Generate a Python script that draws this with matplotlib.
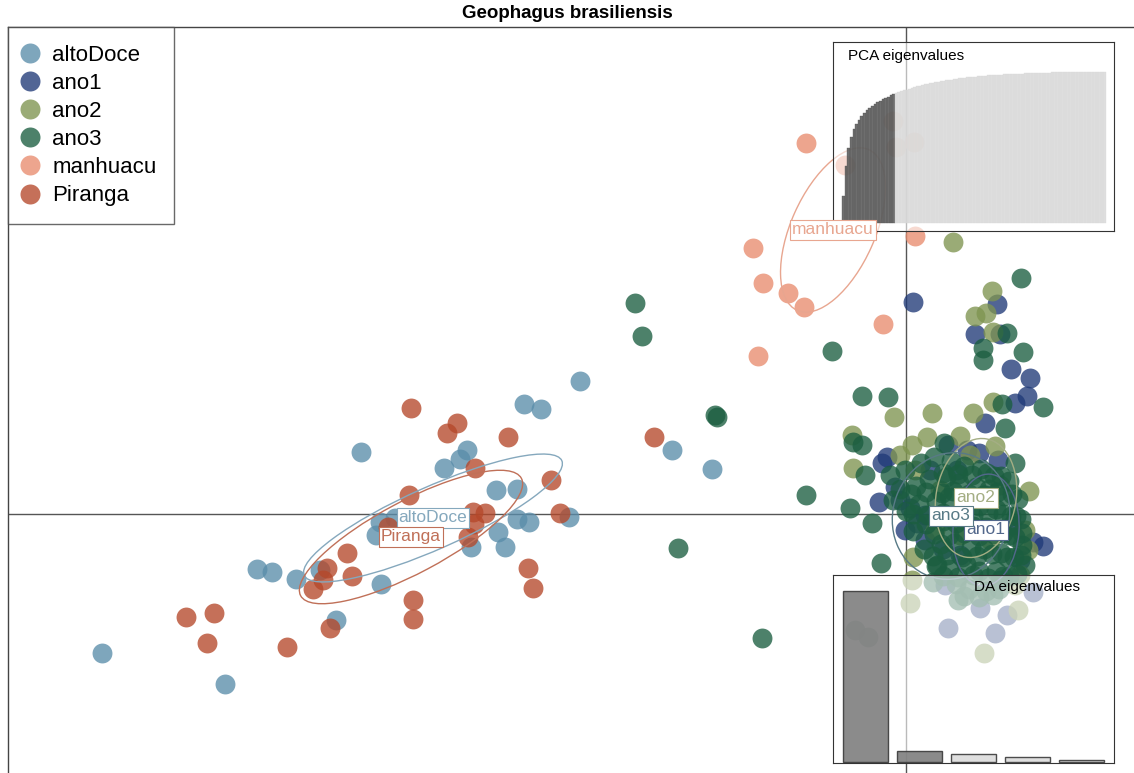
import matplotlib
matplotlib.use("Agg")
import matplotlib.pyplot as plt
from matplotlib.patches import Ellipse
from matplotlib.lines import Line2D

plt.rcParams['font.family'] = ['Liberation Sans', 'DejaVu Sans']

# DAPC scores (LD1, LD2) per population
alto_x = [-8.04, -6.81, -6.49, -6.34, -6.10, -5.86, -5.70, -5.45, -5.26, -5.11, -5.30, -5.25, -4.62, -4.46,
          -4.39, -4.10, -3.89, -4.08, -4.01, -4.35, -3.89, -3.77, -3.37, -3.82, -3.65, -3.26, -2.34, -1.94]
alto_y = [-1.39, -1.70, -0.55, -0.58, -0.65, -0.56, -1.06, 0.62, -0.08, -0.04, -0.21, -0.70, 0.46, 0.55,
          0.64, 0.24, 0.25, -0.18, -0.33, -0.33, -0.05, -0.08, -0.03, 1.10, 1.05, 1.33, 0.64, 0.45]

pir_x = [-4.95, -4.59, -4.49, -3.98, -4.31, -4.97, -3.55, -4.33, -4.21, -4.32, -4.38, -3.46, -5.18, -5.59,
         -5.79, -5.83, -5.93, -5.54, -4.93, -4.93, -3.78, -3.73, -5.76, -7.20, -6.92, -6.99, -6.19, -2.52]
pir_y = [1.06, 0.81, 0.91, 0.77, 0.46, 0.19, 0.34, 0.02, 0.01, -0.10, -0.23, 0.01, -0.13, -0.39,
         -0.54, -0.66, -0.75, -0.62, -0.86, -1.05, -0.54, -0.74, -1.14, -1.03, -0.99, -1.29, -1.33, 0.77]

man_x = [-1.00, -0.61, -0.13, -0.10, 0.08, -1.53, -1.43, -1.18, -1.02, -0.23, -1.48, 0.09]
man_y = [3.71, 3.49, 3.93, 3.67, 3.72, 2.66, 2.31, 2.21, 2.07, 1.90, 1.58, 2.78]

ano1_x = [0.07, 0.91, 0.69, 0.94, 1.05, 1.24, 1.21, 1.09, 0.79, -0.19, -0.24, 0.61, 0.73, 0.42, -0.27,
          -0.11, 0.04, 0.11, 1.37, 1.27, 0.37, 0.92, 0.42, 0.89, 0.74, 1.01, 1.27,
          0.24, 0.51, -0.06, 0.19, 0.79, 1.06, 0.54, 0.39, 0.94, 1.14, 0.19, -0.01]
ano1_y = [2.12, 2.10, 1.80, 1.80, 1.45, 1.36, 1.18, 1.11, 0.91, 0.57, 0.51, 0.64, 0.61, 0.69, 0.12,
          0.27, 0.06, -0.09, -0.32, -0.28, -0.35, 0.54, -1.14, -1.19, -0.94, -1.01, -0.78,
          0.44, 0.44, 0.14, -0.01, 0.19, -0.11, -0.41, -0.71, -0.66, -0.46, -0.26, -0.16]

ano2_x = [0.47, 0.86, 0.69, 0.80, 0.87, 0.87, 0.67, 0.26, -0.12, -0.54, -0.53, 0.21, 0.54, 0.89, 1.23,
          0.07, 0.04, 0.78, 1.12, 0.06,
          0.09, 0.64, 0.34, 0.94, 1.19, 1.22, 0.84, 0.54, 1.09, 0.29, 1.14, 0.06, -0.06]
ano2_y = [2.72, 2.23, 1.98, 2.01, 1.82, 1.12, 1.01, 1.01, 0.97, 0.79, 0.46, 0.77, 0.78, 0.68, 0.23,
          -0.43, -0.89, -1.39, -0.96, 0.69,
          0.44, 0.59, 0.24, 0.29, -0.16, -0.36, -0.26, -0.21, -0.71, -0.16, -0.61, -0.66, 0.59]

ano3_x = [-2.71, -2.64, -0.74, -1.91, -1.89, -1.00, -2.28, -1.44, -0.44, -0.18, 1.15, 1.17, 0.77, 0.77,
          1.01, 1.37, 0.96, -0.53, -0.44, -0.41, 0.99, 1.09, -0.56, -0.34, -0.25, 0.31, 0.38, -0.51,
          -0.38, 0.27, 0.52,
          -0.01, 0.15, 0.28, 0.45, 0.58, 0.75, 0.88, 1.03,
          -0.06, 0.10, 0.23, 0.40, 0.53, 0.70, 0.83, 0.98, 1.12,
          0.00, 0.13, 0.30, 0.43, 0.60, 0.73, 0.90, 1.05, 1.15,
          0.07, 0.20, 0.37, 0.50, 0.67, 0.80, 0.97, 1.09,
          0.18, 0.35, 0.48, 0.65, 0.78, 0.95, 1.08,
          0.30, 0.43, 0.60, 0.73, 0.90, 1.03,
          0.50, 0.63, 0.80, 0.93,
          -0.16, -0.13, 1.16, 1.19,
          0.37, 0.52, 0.66, 0.81, 0.95,
          0.05, 0.20, 0.36, 0.47, 0.63, 0.77, 0.91, 1.06,
          0.07, 0.22, 0.37, 0.52, 0.67, 0.82, 0.97, 1.10,
          0.28, 0.43, 0.58, 0.73, 0.88, 1.03, 1.16,
          0.27, 0.41, 0.56, 0.71, 0.86, 1.01, 1.15,
          0.37, 0.52, 0.67, 0.82, 0.97, 1.11,
          0.58, 0.73, 0.87]
ano3_y = [2.11, 1.78, 1.63, 0.99, 0.97, 0.19, -0.34, -1.24, 1.18, 1.17, 2.36, 1.62, 1.54, 1.66,
          1.81, 1.07, 1.10, 0.72, 0.69, 0.39, 0.86, 0.51, 0.06, -0.09, -0.49, -0.51, 0.71, -1.16,
          -1.23, -0.68, -0.86,
          0.44, 0.51, 0.57, 0.53, 0.48, 0.45, 0.38, 0.33,
          0.25, 0.28, 0.35, 0.37, 0.31, 0.27, 0.25, 0.18, 0.15,
          0.03, 0.10, 0.13, 0.17, 0.11, 0.08, 0.05, -0.02, -0.05,
          -0.17, -0.10, -0.07, -0.09, -0.12, -0.13, -0.19, -0.23,
          -0.35, -0.30, -0.29, -0.33, -0.35, -0.39, -0.43,
          -0.52, -0.55, -0.50, -0.57, -0.57, -0.62,
          -0.70, -0.75, -0.77, -0.75,
          0.39, 0.14, -0.31, -0.51,
          0.41, 0.40, 0.39, 0.41, 0.38,
          0.20, 0.22, 0.21, 0.23, 0.20, 0.19, 0.22, 0.20,
          0.00, -0.01, 0.01, 0.00, -0.02, 0.01, 0.00, -0.02,
          -0.20, -0.21, -0.19, -0.22, -0.20, -0.21, -0.19,
          -0.42, -0.41, -0.43, -0.42, -0.40, -0.43, -0.41,
          -0.62, -0.63, -0.61, -0.64, -0.62, -0.60,
          -0.82, -0.83, -0.81]

groups = ['altoDoce', 'ano1', 'ano2', 'ano3', 'manhuacu', 'Piranga']
colors = ['#5a8daa', '#203a78', '#7e9450', '#1b5e40', '#e88c6e', '#b5482a']
label_colors = ['#85a8bd', '#53688c', '#a4ae84', '#587a86', '#e8a690', '#c07058']
xs = [alto_x, ano1_x, ano2_x, ano3_x, man_x, pir_x]
ys = [alto_y, ano1_y, ano2_y, ano3_y, man_y, pir_y]

# group centres and inertia ellipses (half axes, angle in degrees)
cent_x = [-4.73, 0.80, 0.70, 0.45, -0.73, -4.95]
cent_y = [-0.04, -0.16, 0.16, -0.02, 2.84, -0.23]
ell_a = [1.41, 0.56, 0.60, 0.64, 0.88, 1.25]
ell_b = [0.31, 0.33, 0.40, 0.58, 0.42, 0.36]
ell_ang = [24, 86, 80, 70, 66, 28]

# PCA cumulative variance (%) and DA eigenvalues
pca_cum = [18, 38, 50, 57, 62, 65.5, 68.5, 71, 73, 74.8, 76.4, 77.8, 79, 80.1, 81.1, 82, 82.9, 83.7,
           84.5, 85.2, 85.9, 86.6, 87.2, 87.8, 88.4, 89, 89.5, 90, 90.5, 91, 91.4, 91.8, 92.2, 92.6,
           93, 93.3, 93.6, 93.9, 94.2, 94.5, 94.8, 95.05, 95.3, 95.55, 95.8, 96.0, 96.2, 96.4, 96.6,
           96.8, 97.0, 97.15, 97.3, 97.45, 97.6, 97.75, 97.9, 98.0, 98.1, 98.2, 98.3, 98.4, 98.5,
           98.6, 98.7, 98.78, 98.86, 98.94, 99.02, 99.1, 99.17, 99.24, 99.31, 99.38, 99.44, 99.5,
           99.55, 99.6, 99.65, 99.7, 99.74, 99.78, 99.81, 99.84, 99.87, 99.89, 99.91, 99.93, 99.95,
           99.96, 99.97, 99.98, 99.985, 99.99, 99.993, 99.996, 99.998, 99.999, 100, 100]
n_pca = 20
da_eig = [855, 56, 40, 25, 10]
n_da = 2

W, H = 1134, 773
XLIM = (-8.98, 2.34)
YLIM = (-2.66, 4.87)
fig = plt.figure(figsize=(W / 100, H / 100), dpi=100)
ax = fig.add_axes([8 / W, 1 - 780 / H, 1132 / W, 753 / H], zorder=1)
ax.set_xlim(*XLIM)
ax.set_ylim(*YLIM)
ax.set_xticks([])
ax.set_yticks([])
for s in ax.spines.values():
    s.set_color('#444444')
    s.set_linewidth(1.0)

ax.axhline(0, color='#555555', lw=1, zorder=1)
ax.axvline(0, color='#555555', lw=1, zorder=1)

for g, c, x, y in zip(groups, colors, xs, ys):
    ax.scatter(x, y, s=205, color=c, alpha=0.78, linewidths=0, zorder=2)

for i, g in enumerate(groups):
    e = Ellipse((cent_x[i], cent_y[i]), 2 * ell_a[i], 2 * ell_b[i], angle=ell_ang[i],
                fill=False, ec=label_colors[i], lw=1.0, zorder=3)
    ax.add_patch(e)

handles = [Line2D([], [], ls='', marker='o', ms=14.4, mew=0, color=c, alpha=0.78) for c in colors]
leg = ax.legend(handles, groups, loc='upper left', bbox_to_anchor=(0, 1), borderaxespad=0,
                fontsize=16, frameon=True, fancybox=False, edgecolor='#444444', borderpad=0.8,
                handlelength=0.38, handletextpad=0.81, labelspacing=0.32)
leg.get_frame().set_linewidth(1.0)
leg.set_zorder(6)

fig.text(0.5, 1 - 14 / H, 'Geophagus brasiliensis', ha='center', va='center',
         fontsize=13.5, fontweight='bold')

# PCA eigenvalues inset
ax1 = fig.add_axes([833 / W, 1 - 231 / H, 281 / W, 189 / H], zorder=5)
ax1.set_facecolor((1, 1, 1, 0.6))
pos = list(range(1, len(pca_cum) + 1))
cols = ['#555555' if p <= n_pca else '#d9d9d9' for p in pos]
ax1.bar(pos, pca_cum, width=1.0, color=cols, edgecolor=cols, lw=0.3, alpha=0.85)
ax1.set_xlim(-2.91, 103.5)
ax1.set_ylim(-5.3, 119.9)
ax1.set_xticks([])
ax1.set_yticks([])
for s in ax1.spines.values():
    s.set_color('#333333')
ax1.text(15 / 281, 1 - 14 / 189, 'PCA eigenvalues', transform=ax1.transAxes, fontsize=11,
         ha='left', va='center')

# DA eigenvalues inset
ax2 = fig.add_axes([833 / W, 1 - 763 / H, 281 / W, 188 / H], zorder=5)
ax2.set_facecolor((1, 1, 1, 0.6))
pos = list(range(1, len(da_eig) + 1))
cols = ['#7f7f7f' if p <= n_da else '#dcdcdc' for p in pos]
ax2.bar(pos, da_eig, width=0.833, color=cols, edgecolor='#3a3a3a', lw=1.0, alpha=0.9)
ax2.set_xlim(0.398, 5.60)
ax2.set_ylim(-5, 855 * 188 / 171 - 5)
ax2.set_xticks([])
ax2.set_yticks([])
for s in ax2.spines.values():
    s.set_color('#333333')
ax2.text(1 - 34 / 281, 1 - 12 / 188, 'DA eigenvalues', transform=ax2.transAxes, fontsize=11,
         ha='right', va='center')

# group labels on an overlay so they sit above the insets
top = fig.add_axes(ax.get_position(), zorder=7, frameon=False)
top.set_xlim(*XLIM)
top.set_ylim(*YLIM)
top.set_xticks([])
top.set_yticks([])
top.patch.set_alpha(0)
for i, g in enumerate(groups):
    top.text(cent_x[i], cent_y[i], g, color=label_colors[i], fontsize=12.5, ha='center', va='center',
             bbox=dict(boxstyle='square,pad=0.12', fc='white', ec=label_colors[i], lw=0.8))

fig.savefig('out.png', dpi=100)
